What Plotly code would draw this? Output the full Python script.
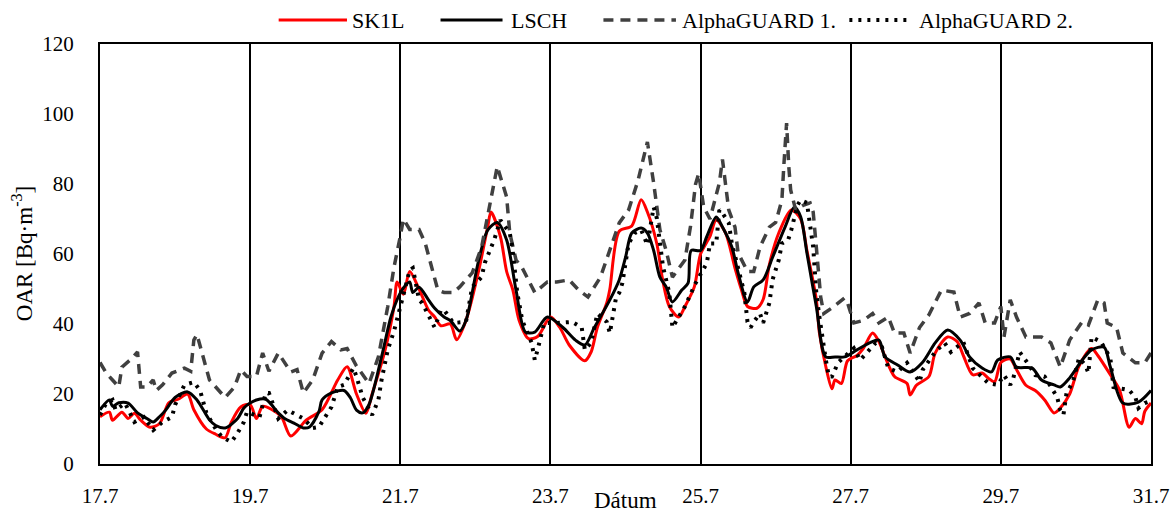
import plotly.graph_objects as go

# hours since 17.7 00:00, values in Bq/m3
sk1l_h = [0,3,4,7,9,11,13,16,19,22,25,28,30,34,37,40,42,45,48,50,52,55,58,61,66,71,76,79,82,85,87,91,94,95,97,99,102,105,107,109,112,114,117,121,124,125,128,130,132,134,137,140,144,147,150,155,157,159,162,163,166,170,173,175,178,180,182,185,187,190,192,195,197,200,203,205,207,210,212,214,217,221,224,226,229,230,232,234,235,237,239,242,244,247,249,251,254,258,259,261,265,267,271,274,276,279,282,284,286,288,291,293,296,299,302,305,307,310,313,317,319,323,326,329,331,333,334,336]
sk1l_v = [13.5,14.8,12.5,14.8,13.0,14.5,12.5,10.5,11.5,17.5,18.5,20.0,15.5,10.0,8.5,7.5,12.0,16.3,17.0,13.0,16.5,15.5,13.5,8.0,12.6,15.5,24.0,27.8,20.0,14.5,20.0,32.0,45.0,52.0,48.5,55.0,50.0,44.0,42.0,39.5,40.0,35.5,41.0,55.0,68.0,72.0,65.0,55.0,49.7,41.0,35.8,36.5,42.0,39.0,34.0,29.5,32.0,39.0,46.0,50.0,66.5,68.0,75.5,72.0,63.0,52.0,45.0,42.0,45.0,50.6,60.0,65.0,69.7,66.0,56.0,50.0,45.0,44.5,47.0,57.0,66.0,72.6,70.0,61.0,47.0,37.4,28.0,21.5,24.0,23.0,29.5,31.0,33.0,37.4,35.0,30.6,25.0,23.0,19.7,22.5,25.0,31.7,36.3,35.0,31.0,25.5,26.0,24.5,23.5,29.0,30.0,27.0,22.5,21.0,18.3,14.6,16.0,20.0,28.0,33.0,31.0,25.5,21.0,10.5,13.0,11.5,15.0,17.4]

lsch_h = [0,3,4,6,9,12,15,17,19,21,24,28,31,35,37,40,44,46,48,50,53,57,59,62,65,67,70,71,74,78,80,82,84,86,90,93,95,97,99,100,102,105,107,110,112,115,117,121,124,127,130,133,136,139,143,148,152,155,158,163,166,168,170,173,175,177,179,181,183,186,188,189,192,194,197,199,202,204,207,209,212,215,219,222,224,226,229,232,235,238,242,246,249,251,255,259,263,267,271,275,278,282,285,287,291,293,298,301,305,307,310,314,317,321,323,327,332,336]
lsch_v = [15.5,18.3,16.5,17.5,17.4,14.6,13.0,12.0,13.5,15.4,19.0,20.6,18.3,12.6,11.0,10.3,13.0,16.0,17.4,18.3,18.5,14.6,13.0,11.7,10.3,10.6,15.0,18.3,20.3,21.0,19.0,15.4,14.6,17.0,30.6,42.0,47.0,50.3,52.0,49.0,50.5,46.9,44.5,42.0,41.0,38.0,41.0,58.0,66.9,69.0,64.0,49.7,37.7,37.7,42.0,39.0,35.4,34.0,38.9,46.9,52.6,59.0,66.0,67.4,66.0,61.0,53.4,50.6,46.3,49.7,51.7,61.0,61.0,65.0,70.6,67.7,62.0,54.6,46.3,50.6,52.6,59.0,67.7,73.4,70.6,60.3,45.0,30.6,30.6,30.6,32.6,34.6,35.4,30.6,28.3,26.3,29.1,34.6,38.3,35.4,30.6,27.4,26.3,29.7,30.6,27.7,27.4,24.0,22.6,22.0,24.6,29.7,32.6,33.4,27.7,17.4,17.7,21.0]

ag1_h = [0,2,4,6,7,10,12,13,15,17,18,20,23,27,29,30,31,33,35,37,40,43,45,47,50,52,54,57,59,61,63,65,68,71,74,77,79,82,86,89,92,94,96,97,99,102,104,106,108,110,113,115,119,122,125,127,130,131,133,135,139,143,146,150,153,156,160,163,166,169,172,175,177,179,181,183,187,188.8,190.4,191.4,193,195,198,199,201,203,204,207,209,211,214,216,218,218.6,219.5,220.2,220.8,222.4,225,227,228,229,230.4,231.4,234,238,239,241,244,247,249,252,254,257,259,262,265,269,273,275,278,281,283,286,288,289,291,293,296,301,304,307,310,314,316,319,321,322,325,327,331,334,336]
ag1_v = [29,26,24,22,27.7,30,32,22,22,24,21,22.6,26,27.4,26.5,35.4,37,30.6,24,22,19,22,26.9,25,25,31.7,26.5,31.7,29,26.3,27,20.3,24,31.7,35,32.6,33,28,23,30.6,45,56.3,65,70,67,67,63,56,49.7,49,49,50.6,54.6,62,75.4,85,76.3,66,58.3,56,49,52,52,52.6,49.7,47.7,53.4,61,68.9,72.6,81,92,80.3,66.9,61,53.4,58.3,68,80,83,73.4,70,80.3,87,72.6,67.7,60.3,55,55,62,67.7,69,75.4,85,97.4,85,78.3,72.6,74,74.6,72,62,47.7,43,44.6,47.4,46,40.3,41,43,40.3,42,37.4,37.4,31.7,39,42.6,49.7,49.1,42,43,46,40.3,40.3,45,36.3,46.9,42,36.3,36.3,34.6,27.7,35.4,40.6,39.7,46.9,46,40.3,39,31.7,28.9,28.9,31.7]

ag2_h = [0,2,4,5,8,11,14,17,20,23,24,27,30,32,34,37,39,42,44,46,47,51,53,54,57,60,65,68,70,72,74,76,78,81,82,84,87,89,90,92,94,97,99,100,102,103,107,109,110,113,117,119,122,123,126,128,131,131.8,132.8,133.4,134.4,135,138,139,140,141,142,146,151,154,155,157,159,162,163,165,166,167,169,171,173,175,177,178,179,180,181,182,183,187,189,190,194,195,197,198,199,201,202,205,206,207,208,209,211,212,214,215,217,218,220,221,223,224,226,228,229,230,231,232,233,234,236,241,243,245,248,250,252,255,258,260,262,263,267,270,272,276,278,279,284,287,289,291,292,294,297,299,302,306,307,308,309,311,313,315,316,317,320,323,324,329,331,332,334,336]
ag2_v = [14,17.4,18.3,15.4,17.4,12,13.4,9.7,12,13.4,16.9,22.6,23.4,21,14.6,10,7.7,6.3,8.9,12,14.9,13.4,20.3,20.3,13,15.4,13,10.3,10.6,13.4,16.3,22,22.6,27.4,25,19,14,18.3,24,32.6,38,48.3,55.4,56,46.9,46,39,44,44,40.3,40.6,50.6,53.4,57.4,64,69.7,66,62,53.4,48.9,44,41,34.6,29.7,33,36.9,40.3,40.3,40.6,39,32.6,34.6,43,40.6,37.4,47.7,48.9,51.7,63,66,66.9,62.6,73.4,70.3,63.4,56.3,52.6,48.9,39,45,48.9,51,57.4,63,63,72.6,71.7,68.9,63,52.6,48.9,40.6,39,40.6,43,40.3,46,52.6,58.3,63,64,66.9,74,75.4,74.6,62,48.9,42,35,30,25,25,29,33.1,29.7,31.7,34.6,33.4,27.4,26.3,28.9,26.3,23.4,26.9,32,34.6,32,34.9,30,27.4,23.1,22.6,25.4,22.6,24.6,32,28.3,25.4,25,19.1,15.4,14,20.3,23.4,30.3,28.3,26,36.3,34.9,30.3,22,21.1,19.1,16,17.4,18]

tick_days = [17, 19, 21, 23, 25, 27, 29, 31]
tick_labels = ["17.7", "19.7", "21.7", "23.7", "25.7", "27.7", "29.7", "31.7"]

series_names = ["SK1L", "LSCH", "AlphaGUARD 1.", "AlphaGUARD 2."]

def to_day(hours):
    return [17 + h / 24 for h in hours]

FS = 21      # tick labels
FS_LEG = 22  # legend
FS_TIT = 23  # axis titles
FONT = "Liberation Serif"

styles = [
    dict(color="#FF0000", width=3, shape="spline", smoothing=0.8),
    dict(color="#000000", width=3, shape="spline", smoothing=0.8),
    dict(color="#404040", width=3.5, dash="10px,7px"),
    dict(color="#000000", width=4, dash="3px,6px"),
]

fig = go.Figure()
for name, hs, vs, st in zip(series_names,
                            [sk1l_h, lsch_h, ag1_h, ag2_h],
                            [sk1l_v, lsch_v, ag1_v, ag2_v], styles):
    fig.add_trace(go.Scatter(x=to_day(hs), y=vs, name=name, mode="lines", line=st,
                             showlegend=False))

# manual legend above the plot (paper coordinates)
legend_line_x = [(0.170, 0.235), (0.324, 0.383), (0.479, 0.548), (0.713, 0.772)]
legend_text_x = [0.238, 0.389, 0.552, 0.777]
leg_y = 1.057
shapes = []
annotations = []
for (x0, x1), tx, name, st in zip(legend_line_x, legend_text_x, series_names, styles):
    shapes.append(dict(type="line", xref="paper", yref="paper", x0=x0, x1=x1, y0=leg_y, y1=leg_y,
                       line=dict(color=st["color"], width=st["width"], dash=st.get("dash", "solid"))))
    annotations.append(dict(text=name, xref="paper", yref="paper", x=tx, y=leg_y,
                            xanchor="left", yanchor="middle", showarrow=False,
                            font=dict(family=FONT, size=FS_LEG)))

annotations += [
    dict(text="Dátum", xref="paper", yref="paper", x=0.5, y=-0.087,
         xanchor="center", yanchor="middle", showarrow=False,
         font=dict(family=FONT, size=FS_TIT)),
    dict(text="OAR [Bq·m<sup>-3</sup>]", xref="paper", yref="paper", x=-0.074, y=0.5,
         xanchor="center", yanchor="middle", textangle=-90, showarrow=False,
         font=dict(family=FONT, size=FS_TIT)),
]

fig.update_layout(
    width=1175, height=513,
    margin=dict(l=100, r=24, t=44, b=49, autoexpand=False),
    paper_bgcolor="white", plot_bgcolor="white",
    font=dict(family=FONT, size=FS, color="black"),
    showlegend=False,
    xaxis=dict(range=[17, 31], tickmode="array", tickvals=tick_days, ticktext=tick_labels,
               showgrid=True, gridcolor="black", gridwidth=1.5,
               showline=True, linecolor="black", linewidth=2, mirror=True,
               ticks="", ticklabelstandoff=12, zeroline=False, automargin=False,
               tickfont=dict(family=FONT, size=FS)),
    yaxis=dict(range=[0, 120], tickmode="linear", tick0=0, dtick=20,
               showgrid=False, showline=True, linecolor="black", linewidth=2, mirror=True,
               ticks="", ticklabelstandoff=20, zeroline=False, automargin=False,
               tickfont=dict(family=FONT, size=FS)),
    shapes=shapes,
    annotations=annotations,
)

fig.write_html("out.html")
